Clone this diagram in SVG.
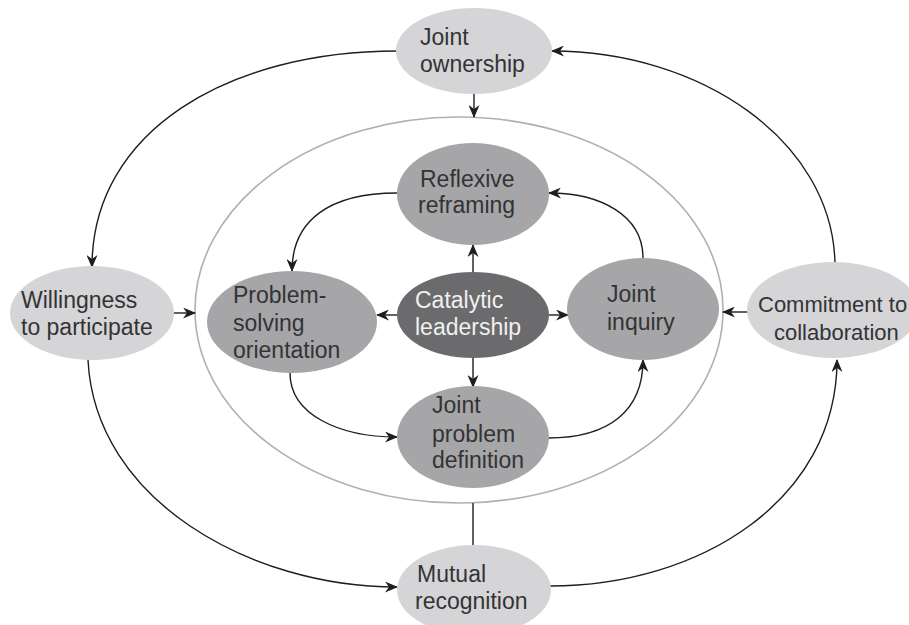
<svg xmlns="http://www.w3.org/2000/svg" width="909" height="625" viewBox="0 0 909 625">
<defs>
<marker id="ah" markerWidth="13" markerHeight="11" refX="12" refY="5.5" orient="auto" markerUnits="userSpaceOnUse">
<path d="M0,0 L13,5.5 L0,11 L4,5.5 Z" fill="#1e1e1e"/>
</marker>
<style>
.outer{fill:#d5d5d7}
.inner{fill:#a6a6a8}
.cat{fill:#6b6b6d}
text{font-family:"Liberation Sans",Arial,sans-serif;font-size:23px;fill:#333335}
.lt{fill:#f0f0f0}
.sm{font-size:22px}
.c{fill:none;stroke:#1e1e1e;stroke-width:1.4}
.a{marker-end:url(#ah)}
.ring{fill:none;stroke:#b0b0b2;stroke-width:1.6}
</style>
</defs>
<rect width="909" height="625" fill="#ffffff"/>
<ellipse class="ring" cx="459" cy="310" rx="264" ry="193"/>
<g id="connectors">
<path class="c a" d="M474 94 L474 117"/>
<path class="c a" d="M173 313 L195 313"/>
<path class="c a" d="M748 312 L723 312"/>
<path class="c" d="M473 503 L473 546"/>
<path class="c a" d="M397 51 C 230 51, 92 130, 92 267"/>
<path class="c a" d="M835 263 C 832 140, 700 51, 552 51"/>
<path class="c a" d="M88 360 C 95 500, 250 587, 397 587"/>
<path class="c a" d="M550 586 C 700 586, 837 500, 837 360"/>
<path class="c a" d="M473 273 L473 245"/>
<path class="c a" d="M473 358 L473 387"/>
<path class="c a" d="M397 315 L377 315"/>
<path class="c a" d="M549 315 L568 315"/>
<path class="c a" d="M397 193 C 330 193, 292 220, 292 271"/>
<path class="c a" d="M643 258 C 643 215, 600 193, 549 193"/>
<path class="c a" d="M290 373 C 290 415, 340 437, 397 437"/>
<path class="c a" d="M548 438 C 610 438, 643 410, 643 360"/>
</g>
<g id="joint-ownership">
<ellipse class="outer" cx="474" cy="51" rx="78" ry="43"/>
<text x="420" y="45">Joint</text>
<text x="420" y="72">ownership</text>
</g>
<g id="willingness">
<ellipse class="outer" cx="92" cy="313" rx="82" ry="47"/>
<text x="21" y="308">Willingness</text>
<text x="21" y="335">to participate</text>
</g>
<g id="commitment">
<ellipse class="outer" cx="833" cy="310" rx="86" ry="48"/>
<text class="sm" x="758" y="312">Commitment to</text>
<text class="sm" x="774" y="340">collaboration</text>
</g>
<g id="mutual-recognition">
<ellipse class="outer" cx="474" cy="590" rx="77" ry="45"/>
<text x="417" y="582">Mutual</text>
<text x="415" y="609">recognition</text>
</g>
<g id="reflexive-reframing">
<ellipse class="inner" cx="473" cy="194" rx="76" ry="51"/>
<text x="420" y="187">Reflexive</text>
<text x="418" y="213">reframing</text>
</g>
<g id="problem-solving">
<ellipse class="inner" cx="292" cy="322" rx="85" ry="51"/>
<text x="233" y="303">Problem-</text>
<text x="233" y="331">solving</text>
<text x="233" y="358">orientation</text>
</g>
<g id="catalytic-leadership">
<ellipse class="cat" cx="473" cy="315" rx="76" ry="43"/>
<text class="lt" x="415" y="308">Catalytic</text>
<text class="lt" x="415" y="335">leadership</text>
</g>
<g id="joint-inquiry">
<ellipse class="inner" cx="643" cy="309" rx="76" ry="51"/>
<text x="607" y="302">Joint</text>
<text x="607" y="330">inquiry</text>
</g>
<g id="joint-problem-definition">
<ellipse class="inner" cx="473" cy="437" rx="76" ry="51"/>
<text x="432" y="413">Joint</text>
<text x="432" y="442">problem</text>
<text x="432" y="468">definition</text>
</g>
</svg>
